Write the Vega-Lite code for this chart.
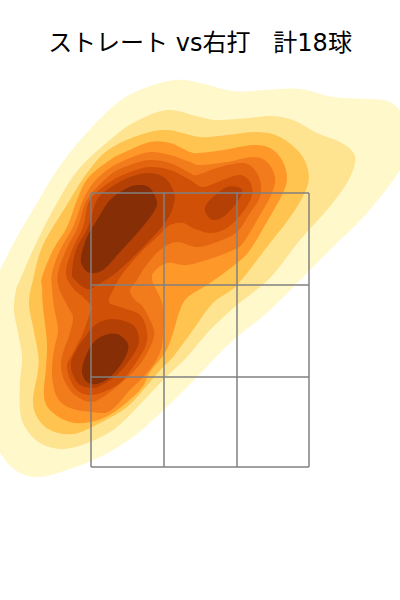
{"$schema":"https://vega.github.io/schema/vega-lite/v6.json","width":400,"height":600,"padding":0,"autosize":"none","background":"white","view":{"stroke":null},
"datasets":{
"contours":[
{"p":"a1","x":-200,"y":197},{"p":"a1","x":-183,"y":230},{"p":"a1","x":-163,"y":264},{"p":"a1","x":-143,"y":297},{"p":"a1","x":-117,"y":330},{"p":"a1","x":-83,"y":364},{"p":"a1","x":-53,"y":380},{"p":"a1","x":-23,"y":387},{"p":"a1","x":0,"y":384},{"p":"a1","x":33,"y":376},{"p":"a1","x":67,"y":377},{"p":"a1","x":100,"y":378},{"p":"a1","x":133,"y":370},{"p":"a1","x":167,"y":368},{"p":"a1","x":190,"y":365},{"p":"a1","x":205,"y":349},{"p":"a1","x":212,"y":327},{"p":"a1","x":200,"y":297},{"p":"a1","x":167,"y":254},{"p":"a1","x":133,"y":220},{"p":"a1","x":110,"y":197},{"p":"a1","x":70,"y":157},{"p":"a1","x":30,"y":124},{"p":"a1","x":-3,"y":90},{"p":"a1","x":-33,"y":60},{"p":"a1","x":-67,"y":30},{"p":"a1","x":-100,"y":10},{"p":"a1","x":-133,"y":-3},{"p":"a1","x":-160,"y":-10},{"p":"a1","x":-180,"y":-6},{"p":"a1","x":-197,"y":10},{"p":"a1","x":-215,"y":47},{"p":"a1","x":-225,"y":117},{"p":"a1","x":-215,"y":167},
{"p":"b2","x":-180,"y":187},{"p":"b2","x":-167,"y":217},{"p":"b2","x":-147,"y":257},{"p":"b2","x":-122,"y":297},{"p":"b2","x":-90,"y":327},{"p":"b2","x":-67,"y":344},{"p":"b2","x":-33,"y":357},{"p":"b2","x":0,"y":350},{"p":"b2","x":17,"y":347},{"p":"b2","x":50,"y":349},{"p":"b2","x":70,"y":351},{"p":"b2","x":93,"y":347},{"p":"b2","x":117,"y":334},{"p":"b2","x":140,"y":325},{"p":"b2","x":153,"y":315},{"p":"b2","x":155,"y":304},{"p":"b2","x":147,"y":284},{"p":"b2","x":127,"y":257},{"p":"b2","x":100,"y":227},{"p":"b2","x":70,"y":189},{"p":"b2","x":37,"y":162},{"p":"b2","x":10,"y":137},{"p":"b2","x":-13,"y":110},{"p":"b2","x":-35,"y":89},{"p":"b2","x":-53,"y":70},{"p":"b2","x":-83,"y":40},{"p":"b2","x":-110,"y":25},{"p":"b2","x":-137,"y":18},{"p":"b2","x":-160,"y":24},{"p":"b2","x":-175,"y":40},{"p":"b2","x":-180,"y":57},{"p":"b2","x":-180,"y":84},{"p":"b2","x":-178,"y":110},{"p":"b2","x":-182,"y":134},{"p":"b2","x":-186,"y":157},{"p":"b2","x":-184,"y":177},
{"p":"c3","x":-167,"y":187},{"p":"c3","x":-157,"y":222},{"p":"c3","x":-132,"y":264},{"p":"c3","x":-113,"y":294},{"p":"c3","x":-92,"y":317},{"p":"c3","x":-60,"y":332},{"p":"c3","x":-33,"y":337},{"p":"c3","x":0,"y":330},{"p":"c3","x":27,"y":332},{"p":"c3","x":57,"y":335},{"p":"c3","x":80,"y":330},{"p":"c3","x":100,"y":314},{"p":"c3","x":108,"y":297},{"p":"c3","x":107,"y":280},{"p":"c3","x":93,"y":254},{"p":"c3","x":67,"y":220},{"p":"c3","x":37,"y":182},{"p":"c3","x":13,"y":164},{"p":"c3","x":-7,"y":137},{"p":"c3","x":-27,"y":110},{"p":"c3","x":-37,"y":100},{"p":"c3","x":-50,"y":85},{"p":"c3","x":-73,"y":60},{"p":"c3","x":-100,"y":44},{"p":"c3","x":-127,"y":33},{"p":"c3","x":-150,"y":37},{"p":"c3","x":-163,"y":50},{"p":"c3","x":-167,"y":67},{"p":"c3","x":-162,"y":97},{"p":"c3","x":-162,"y":114},{"p":"c3","x":-167,"y":140},{"p":"c3","x":-171,"y":164},
{"p":"d4","x":-158,"y":190},{"p":"d4","x":-147,"y":217},{"p":"d4","x":-133,"y":240},{"p":"d4","x":-123,"y":267},{"p":"d4","x":-112,"y":289},{"p":"d4","x":-90,"y":307},{"p":"d4","x":-75,"y":315},{"p":"d4","x":-50,"y":325},{"p":"d4","x":-30,"y":324},{"p":"d4","x":-10,"y":315},{"p":"d4","x":0,"y":314},{"p":"d4","x":23,"y":317},{"p":"d4","x":53,"y":322},{"p":"d4","x":70,"y":319},{"p":"d4","x":82,"y":307},{"p":"d4","x":87,"y":290},{"p":"d4","x":83,"y":274},{"p":"d4","x":68,"y":247},{"p":"d4","x":50,"y":217},{"p":"d4","x":37,"y":204},{"p":"d4","x":10,"y":184},{"p":"d4","x":-12,"y":170},{"p":"d4","x":-20,"y":157},{"p":"d4","x":-27,"y":134},{"p":"d4","x":-35,"y":114},{"p":"d4","x":-50,"y":95},{"p":"d4","x":-60,"y":77},{"p":"d4","x":-87,"y":54},{"p":"d4","x":-110,"y":45},{"p":"d4","x":-130,"y":45},{"p":"d4","x":-148,"y":55},{"p":"d4","x":-156,"y":70},{"p":"d4","x":-154,"y":100},{"p":"d4","x":-153,"y":124},{"p":"d4","x":-157,"y":160},{"p":"d4","x":-158,"y":179},
{"p":"e5","x":-148,"y":194},{"p":"e5","x":-140,"y":217},{"p":"e5","x":-127,"y":240},{"p":"e5","x":-117,"y":267},{"p":"e5","x":-106,"y":285},{"p":"e5","x":-90,"y":299},{"p":"e5","x":-70,"y":309},{"p":"e5","x":-50,"y":315},{"p":"e5","x":-30,"y":312},{"p":"e5","x":-10,"y":305},{"p":"e5","x":0,"y":302},{"p":"e5","x":27,"y":305},{"p":"e5","x":53,"y":310},{"p":"e5","x":67,"y":305},{"p":"e5","x":75,"y":290},{"p":"e5","x":72,"y":274},{"p":"e5","x":60,"y":252},{"p":"e5","x":43,"y":224},{"p":"e5","x":33,"y":217},{"p":"e5","x":13,"y":209},{"p":"e5","x":-13,"y":202},{"p":"e5","x":-33,"y":204},{"p":"e5","x":-47,"y":194},{"p":"e5","x":-47,"y":184},{"p":"e5","x":-42,"y":174},{"p":"e5","x":-37,"y":160},{"p":"e5","x":-37,"y":134},{"p":"e5","x":-40,"y":114},{"p":"e5","x":-53,"y":94},{"p":"e5","x":-70,"y":77},{"p":"e5","x":-90,"y":56},{"p":"e5","x":-108,"y":55},{"p":"e5","x":-130,"y":59},{"p":"e5","x":-143,"y":70},{"p":"e5","x":-148,"y":92},{"p":"e5","x":-146,"y":117},{"p":"e5","x":-142,"y":137},{"p":"e5","x":-146,"y":160},{"p":"e5","x":-148,"y":179},
{"p":"f6","x":-142,"y":194},{"p":"f6","x":-134,"y":217},{"p":"f6","x":-122,"y":240},{"p":"f6","x":-113,"y":267},{"p":"f6","x":-90,"y":292},{"p":"f6","x":-70,"y":302},{"p":"f6","x":-50,"y":307},{"p":"f6","x":-30,"y":304},{"p":"f6","x":-10,"y":294},{"p":"f6","x":-3,"y":292},{"p":"f6","x":17,"y":299},{"p":"f6","x":40,"y":304},{"p":"f6","x":52,"y":300},{"p":"f6","x":60,"y":287},{"p":"f6","x":60,"y":270},{"p":"f6","x":50,"y":254},{"p":"f6","x":37,"y":235},{"p":"f6","x":17,"y":225},{"p":"f6","x":-3,"y":220},{"p":"f6","x":-23,"y":225},{"p":"f6","x":-40,"y":217},{"p":"f6","x":-55,"y":200},{"p":"f6","x":-63,"y":187},{"p":"f6","x":-70,"y":177},{"p":"f6","x":-65,"y":167},{"p":"f6","x":-57,"y":160},{"p":"f6","x":-47,"y":140},{"p":"f6","x":-47,"y":127},{"p":"f6","x":-57,"y":107},{"p":"f6","x":-70,"y":92},{"p":"f6","x":-90,"y":75},{"p":"f6","x":-108,"y":65},{"p":"f6","x":-125,"y":72},{"p":"f6","x":-135,"y":85},{"p":"f6","x":-139,"y":100},{"p":"f6","x":-137,"y":114},{"p":"f6","x":-130,"y":134},{"p":"f6","x":-127,"y":150},{"p":"f6","x":-132,"y":160},{"p":"f6","x":-141,"y":179},
{"p":"g7","x":-134,"y":194},{"p":"g7","x":-128,"y":217},{"p":"g7","x":-117,"y":240},{"p":"g7","x":-110,"y":267},{"p":"g7","x":-90,"y":285},{"p":"g7","x":-70,"y":295},{"p":"g7","x":-50,"y":300},{"p":"g7","x":-30,"y":297},{"p":"g7","x":-10,"y":287},{"p":"g7","x":3,"y":280},{"p":"g7","x":23,"y":287},{"p":"g7","x":40,"y":292},{"p":"g7","x":50,"y":285},{"p":"g7","x":52,"y":272},{"p":"g7","x":43,"y":255},{"p":"g7","x":27,"y":239},{"p":"g7","x":10,"y":234},{"p":"g7","x":-7,"y":239},{"p":"g7","x":-17,"y":244},{"p":"g7","x":-30,"y":242},{"p":"g7","x":-43,"y":230},{"p":"g7","x":-60,"y":214},{"p":"g7","x":-77,"y":194},{"p":"g7","x":-87,"y":177},{"p":"g7","x":-91,"y":165},{"p":"g7","x":-80,"y":160},{"p":"g7","x":-60,"y":152},{"p":"g7","x":-53,"y":135},{"p":"g7","x":-55,"y":120},{"p":"g7","x":-67,"y":100},{"p":"g7","x":-83,"y":82},{"p":"g7","x":-108,"y":72},{"p":"g7","x":-125,"y":79},{"p":"g7","x":-133,"y":100},{"p":"g7","x":-127,"y":114},{"p":"g7","x":-117,"y":134},{"p":"g7","x":-110,"y":154},{"p":"g7","x":-108,"y":160},{"p":"g7","x":-117,"y":170},{"p":"g7","x":-127,"y":179},
{"p":"h8a","x":-128,"y":194},{"p":"h8a","x":-124,"y":217},{"p":"h8a","x":-112,"y":240},{"p":"h8a","x":-103,"y":267},{"p":"h8a","x":-90,"y":279},{"p":"h8a","x":-70,"y":290},{"p":"h8a","x":-50,"y":294},{"p":"h8a","x":-35,"y":289},{"p":"h8a","x":-26,"y":275},{"p":"h8a","x":-26,"y":264},{"p":"h8a","x":-33,"y":247},{"p":"h8a","x":-53,"y":224},{"p":"h8a","x":-83,"y":195},{"p":"h8a","x":-103,"y":182},{"p":"h8a","x":-113,"y":178},{"p":"h8a","x":-125,"y":187},
{"p":"h8b","x":5,"y":260},{"p":"h8b","x":13,"y":270},{"p":"h8b","x":27,"y":280},{"p":"h8b","x":40,"y":279},{"p":"h8b","x":42,"y":274},{"p":"h8b","x":35,"y":262},{"p":"h8b","x":23,"y":250},{"p":"h8b","x":13,"y":247},{"p":"h8b","x":7,"y":252},
{"p":"h8c","x":-87,"y":148},{"p":"h8c","x":-67,"y":142},{"p":"h8c","x":-61,"y":127},{"p":"h8c","x":-67,"y":112},{"p":"h8c","x":-83,"y":92},{"p":"h8c","x":-100,"y":81},{"p":"h8c","x":-108,"y":79},{"p":"h8c","x":-120,"y":82},{"p":"h8c","x":-127,"y":92},{"p":"h8c","x":-129,"y":105},{"p":"h8c","x":-122,"y":120},{"p":"h8c","x":-112,"y":134},{"p":"h8c","x":-102,"y":144},
{"p":"i9a","x":-60,"y":282},{"p":"i9a","x":-50,"y":279},{"p":"i9a","x":-43,"y":265},{"p":"i9a","x":-47,"y":254},{"p":"i9a","x":-60,"y":237},{"p":"i9a","x":-80,"y":215},{"p":"i9a","x":-97,"y":197},{"p":"i9a","x":-110,"y":194},{"p":"i9a","x":-117,"y":200},{"p":"i9a","x":-119,"y":210},{"p":"i9a","x":-113,"y":230},{"p":"i9a","x":-103,"y":247},{"p":"i9a","x":-90,"y":267},{"p":"i9a","x":-73,"y":279},
{"p":"i9b","x":-83,"y":133},{"p":"i9b","x":-73,"y":125},{"p":"i9b","x":-72,"y":117},{"p":"i9b","x":-78,"y":104},{"p":"i9b","x":-90,"y":90},{"p":"i9b","x":-103,"y":83},{"p":"i9b","x":-113,"y":85},{"p":"i9b","x":-118,"y":95},{"p":"i9b","x":-115,"y":109},{"p":"i9b","x":-107,"y":124},{"p":"i9b","x":-95,"y":132}
],
"zone":[
{"x":-109,"y":0,"x2":-109,"y2":274},{"x":-36,"y":0,"x2":-36,"y2":274},{"x":37,"y":0,"x2":37,"y2":274},{"x":109,"y":0,"x2":109,"y2":274},
{"x":-109,"y":0,"x2":109,"y2":0},{"x":-109,"y":90,"x2":109,"y2":90},{"x":-109,"y":182,"x2":109,"y2":182},{"x":-109,"y":274,"x2":109,"y2":274}
],
"heading":[{"x":0,"y":416,"t":"ストレート vs右打\u00a0\u00a0\u00a0計18球"}]
},
"layer":[
{"data":{"name":"contours"},"transform":[{"window":[{"op":"row_number","as":"i"}]}],
"mark":{"type":"line","interpolate":"cardinal-closed","tension":0,"filled":true,"strokeWidth":0,"clip":true},
"encoding":{
"x":{"field":"x","type":"quantitative","scale":{"domain":[-200,200],"nice":false,"zero":false},"axis":null},
"y":{"field":"y","type":"quantitative","scale":{"domain":[-133,467],"nice":false,"zero":false},"axis":null},
"order":{"field":"i"},
"detail":{"field":"p"},
"fill":{"field":"p","type":"nominal","legend":null,"scale":{"domain":["a1","b2","c3","d4","e5","f6","g7","h8a","h8b","h8c","i9a","i9b"],"range":["#fff8ca","#fee391","#fec44f","#fe9929","#f27b1c","#e36510","#cf5006","#b54006","#b54006","#b54006","#862e05","#862e05"]}}
}},
{"data":{"name":"zone"},"mark":{"type":"rule","color":"#808080","strokeWidth":1.5},
"encoding":{"x":{"field":"x","type":"quantitative"},"y":{"field":"y","type":"quantitative"},"x2":{"field":"x2"},"y2":{"field":"y2"}}},
{"data":{"name":"heading"},"mark":{"type":"text","font":"DejaVu Sans, Noto Sans CJK JP","fontSize":24,"color":"black","align":"center","baseline":"alphabetic"},
"encoding":{"x":{"field":"x","type":"quantitative"},"y":{"field":"y","type":"quantitative"},"text":{"field":"t"}}}
]}
